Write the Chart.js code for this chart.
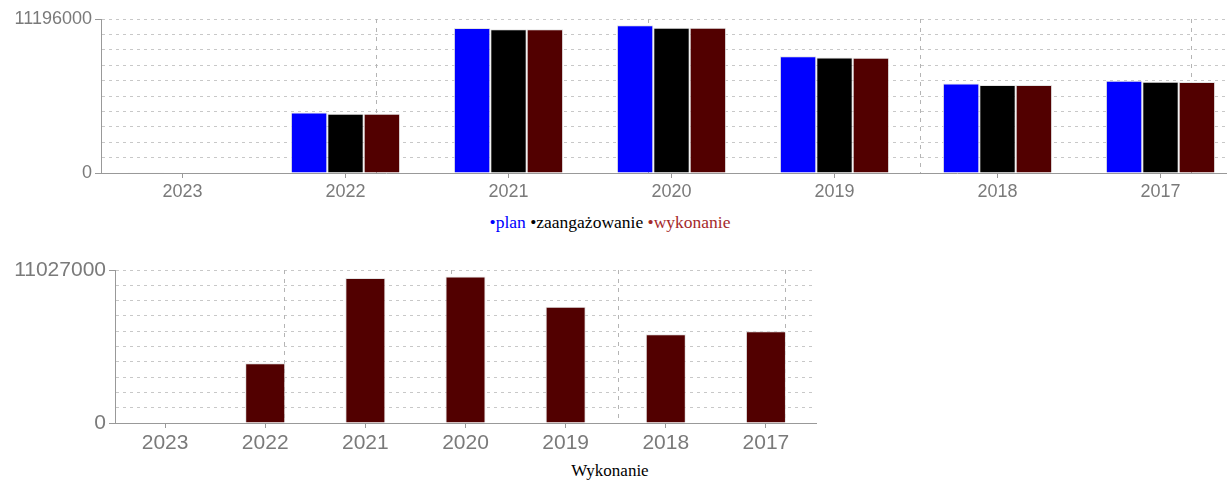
<!DOCTYPE html>
<html>
<head>
<meta charset="utf-8">
<script src="https://cdn.jsdelivr.net/npm/chart.js@4.4.0/dist/chart.umd.min.js"></script>
<style>
  body { margin: 0; overflow: hidden; background: #fff; width: 1227px; height: 483px; position: relative; }
  .box { position: absolute; }
  .txt { position: absolute; left: 0; width: 1220px; text-align: center; font-family: "Liberation Serif", "Times New Roman", serif; font-size: 17px; }
</style>
</head>
<body>
<div class="box" style="left:0; top:0; width:1245px; height:205px;"><canvas id="topChart"></canvas></div>
<div class="txt" style="top:212px; font-size:17.5px;"><span style="color:#0000ff">•plan</span> <span style="color:#000">•zaangażowanie</span> <span style="color:#a52a2a">•wykonanie</span></div>
<div class="box" style="left:0; top:248px; width:820px; height:207px;"><canvas id="bottomChart"></canvas></div>
<div class="txt" style="top:461px;">Wykonanie</div>
<script>
// data
var years = ['2023', '2022', '2021', '2020', '2019', '2018', '2017'];
var plan = [25000, 4400000, 10550000, 10740000, 8480000, 6510000, 6710000];
var zaangazowanie = [0, 4310000, 10450000, 10560000, 8390000, 6400000, 6630000];
var wykonanie = [0, 4310000, 10450000, 10560000, 8380000, 6390000, 6610000];
var topMax = 11196000;
var bottomMax = 11027000;

var labelGray = '#7a7a7a';
var axisGray = '#999999';
var gridGray = '#c8c8c8';

// vertical dashed guides, in category widths from the left edge
var guideStart = 1.69;
var guideStep = 5 / 3;

var guidesPlugin = {
  id: 'guides',
  beforeDatasetsDraw: function (chart) {
    var x = chart.scales.x;
    var area = chart.chartArea;
    var ctx = chart.ctx;
    var n = chart.data.labels.length;
    ctx.save();
    ctx.strokeStyle = '#b4b4b4';
    ctx.lineWidth = 1;
    ctx.setLineDash([4, 5]);
    for (var v = guideStart; v < n; v += guideStep) {
      var px = Math.round(x.getPixelForDecimal(v / n)) + 0.5;
      ctx.beginPath();
      ctx.moveTo(px, area.top);
      ctx.lineTo(px, area.bottom);
      ctx.stroke();
    }
    ctx.restore();
  }
};

function makeOptions(max, yWidth, fontSize, padTop, padRight) {
  return {
    responsive: true,
    maintainAspectRatio: false,
    animation: false,
    layout: { padding: { top: padTop, right: padRight, left: 0, bottom: 0 } },
    plugins: { legend: { display: false }, tooltip: { enabled: false } },
    scales: {
      x: {
        type: 'category',
        offset: true,
        grid: { offset: false, drawOnChartArea: false, drawTicks: true, tickLength: 5, tickColor: axisGray },
        border: { color: axisGray, width: 1 },
        ticks: { color: labelGray, padding: 3, autoSkip: false, maxRotation: 0, font: { family: 'Liberation Sans', size: fontSize } },
        afterFit: function (s) { s.height = 32; }
      },
      y: {
        min: 0,
        max: max,
        ticks: {
          stepSize: max / 10,
          autoSkip: false,
          color: labelGray,
          padding: 3,
          font: { family: 'Liberation Sans', size: fontSize },
          callback: function (v) { return (v === 0 || v === max) ? v : ''; }
        },
        grid: {
          color: function (ctx) { return (ctx.tick && ctx.tick.value === 0) ? 'rgba(0,0,0,0)' : gridGray; },
          tickLength: 6,
          tickColor: function (ctx) {
            var v = ctx.tick ? ctx.tick.value : -1;
            return (v === 0 || v === max) ? axisGray : 'rgba(0,0,0,0)';
          }
        },
        border: { color: axisGray, width: 1, dash: [3, 4] },
        afterFit: function (s) { s.width = yWidth; }
      }
    }
  };
}

var barBorder = 'rgba(225,225,225,0.9)';

new Chart(document.getElementById('topChart').getContext('2d'), {
  type: 'bar',
  data: {
    labels: years,
    datasets: [
      { label: 'plan', data: plan, backgroundColor: '#0000ff', borderColor: barBorder, borderWidth: 1, categoryPercentage: 0.67, barPercentage: 1.0 },
      { label: 'zaangażowanie', data: zaangazowanie, backgroundColor: '#000000', borderColor: barBorder, borderWidth: 1, categoryPercentage: 0.67, barPercentage: 1.0 },
      { label: 'wykonanie', data: wykonanie, backgroundColor: '#520000', borderColor: barBorder, borderWidth: 1, categoryPercentage: 0.67, barPercentage: 1.0 }
    ]
  },
  options: makeOptions(topMax, 101, 18, 19, 3),
  plugins: [guidesPlugin]
});

new Chart(document.getElementById('bottomChart').getContext('2d'), {
  type: 'bar',
  data: {
    labels: years,
    datasets: [
      { label: 'wykonanie', data: wykonanie, backgroundColor: '#520000', borderColor: barBorder, borderWidth: 1, categoryPercentage: 0.4, barPercentage: 1.0 }
    ]
  },
  options: makeOptions(bottomMax, 115, 21, 22, 4),
  plugins: [guidesPlugin]
});
</script>
</body>
</html>
